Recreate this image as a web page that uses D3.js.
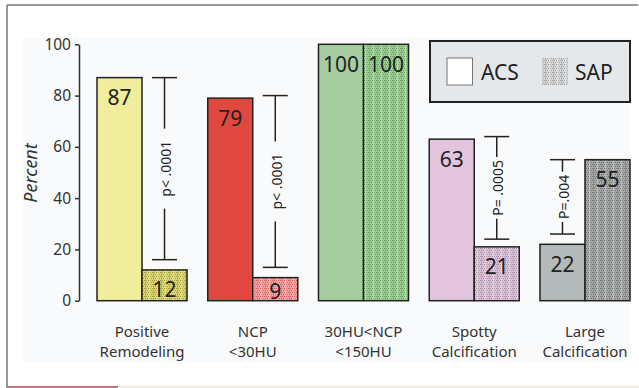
<!DOCTYPE html>
<html><head><meta charset="utf-8">
<script src="https://cdn.jsdelivr.net/npm/d3@7"></script>
<style>html,body{margin:0;padding:0;background:#fff;} svg{display:block;font-family:"Noto Sans",sans-serif;}</style>
</head><body><svg id="c" width="639" height="388"></svg>
<script>
// ---- data ----
const categories = ["Positive\nRemodeling","NCP\n<30HU","30HU<NCP\n<150HU","Spotty\nCalcification","Large\nCalcification"];
const series = ["ACS","SAP"];
const acsValues = [87,79,100,63,22];
const sapValues = [12,9,100,21,55];
const yTicks = [0,20,40,60,80,100];
const pLabels = ["p< .0001","p< .0001",null,"P= .0005","P=.004"];
const pTop = [87,80,null,64,55];
const pBottom = [16,13,null,24,26];
const pOver = ["SAP","SAP",null,"SAP","ACS"];

// ---- styles ----
const acsColors = ["#f0ed9c","#e0483f","#a7cca0","#e2c4df","#b4b9b9"];
const sapBase = ["#dcd878","#f2a4a2","#9fcf97","#dcc4d8","#a9abab"];
const sapDark = ["#8c8628","#cf4a48","#4f9049","#9b7a96","#5e5f5f"];
const legendBase = "#d8d8d8", legendDark = "#8e8e8e";

const svg = d3.select("#c");
const W = 639, H = 388;

// patterns
const defs = svg.append("defs");
function makePattern(id, base, dark){
  const p = defs.append("pattern").attr("id", id).attr("patternUnits","userSpaceOnUse")
    .attr("width", 8).attr("height", 4);
  p.append("rect").attr("width",8).attr("height",4).attr("fill",base);
  [[0,0],[2,0],[4,0],[6,0],[1,2],[3,2],[5,2],[7,2]].forEach(([x,y])=>{
    p.append("rect").attr("x",x).attr("y",y).attr("width",1).attr("height",1).attr("fill",dark).attr("opacity",0.75);
  });
  p.append("rect").attr("x",5).attr("y",0).attr("width",1).attr("height",4).attr("fill","#fff").attr("opacity",0.35);
  p.append("rect").attr("x",1).attr("y",0).attr("width",1).attr("height",4).attr("fill",dark).attr("opacity",0.3);
}
sapBase.forEach((b,i)=>makePattern("hatch"+i, b, sapDark[i]));
makePattern("hatchLegend", legendBase, legendDark);

// frame
svg.append("rect").attr("x",0).attr("y",0).attr("width",W).attr("height",H).attr("fill","#fff");
svg.append("rect").attr("x",22).attr("y",38).attr("width",608).attr("height",323).attr("fill","#f9fafb");
svg.append("line").attr("x1",7).attr("x2",7).attr("y1",5).attr("y2",H).attr("stroke","#999").attr("stroke-width",2);
svg.append("line").attr("x1",7).attr("x2",638).attr("y1",5).attr("y2",5).attr("stroke","#777").attr("stroke-width",1.5);
svg.append("rect").attr("x",7).attr("y",386).attr("width",111).attr("height",2).attr("fill","#c7707f");
svg.append("rect").attr("x",118).attr("y",386).attr("width",521).attr("height",2).attr("fill","#f2ebe0");

// scales
const y = d3.scaleLinear().domain([0,100]).range([300.7,44.3]);
const x0 = d3.scaleBand().domain(categories).range([97,630]).paddingInner(0.187).paddingOuter(0);
const x1 = d3.scaleBand().domain(series).range([0,x0.bandwidth()]);

// axis
const axis = svg.append("g").attr("transform","translate(79,0)")
  .call(d3.axisLeft(y).tickValues(yTicks).tickSize(4).tickSizeOuter(0).tickPadding(4));
axis.select(".domain").attr("stroke","#333").attr("stroke-width",1.5);
axis.selectAll(".tick line").attr("stroke","#333").attr("stroke-width",1.5);
axis.selectAll(".tick text").attr("fill","#333").style("font-size","15.5px").style("font-family","'Noto Sans',sans-serif");

svg.append("text").attr("transform","translate(36.5,173) rotate(-90)")
  .attr("text-anchor","middle").attr("fill","#333").style("font-size","18px").style("font-style","italic")
  .text("Percent");

// bars
const rows = categories.map((c,i)=>({cat:c, i, ACS:acsValues[i], SAP:sapValues[i]}));
const g = svg.append("g");
rows.forEach(r=>{
  series.forEach(s=>{
    const v = r[s];
    const bx = x0(r.cat) + x1(s);
    g.append("rect").attr("x",bx).attr("y",y(v)).attr("width",x1.bandwidth()).attr("height",y(0)-y(v))
      .attr("fill", s==="ACS" ? acsColors[r.i] : `url(#hatch${r.i})`)
      .attr("stroke","#222").attr("stroke-width",1.5);
  });
});
rows.forEach(r=>{
  series.forEach(s=>{
    const v = r[s];
    const bx = x0(r.cat) + x1(s) + x1.bandwidth()/2;
    g.append("text").attr("x",bx).attr("y",Math.min(y(v)+27.5, y(0)-2))
      .attr("text-anchor","middle").attr("fill","#222").style("font-size","21px").text(v);
  });
});

// p-value brackets
rows.forEach(r=>{
  const i = r.i;
  if(!pLabels[i]) return;
  const bx = x0(r.cat) + x1(pOver[i]) + x1.bandwidth()/2;
  const yt = y(pTop[i]), yb = y(pBottom[i]);
  const ym = (yt+yb)/2;
  const bg = svg.append("g");
  const t = bg.append("text").attr("transform",`translate(${bx+1},${ym}) rotate(-90)`)
    .attr("text-anchor","middle").attr("dominant-baseline","central")
    .attr("fill","#222").style("font-size","14px").text(pLabels[i]);
  const len = t.node().getComputedTextLength();
  const room = (yb-yt)/2 - len/2;
  const pad = room > 40 ? 12 : 3;
  const half = len/2 + pad;
  const stroke = (x1_,y1_,x2_,y2_)=>bg.append("line").attr("x1",x1_).attr("y1",y1_).attr("x2",x2_).attr("y2",y2_)
      .attr("stroke","#222").attr("stroke-width",1.5);
  stroke(bx-12.5,yt,bx+12.5,yt);
  stroke(bx-12.5,yb,bx+12.5,yb);
  if (ym-half > yt) stroke(bx,yt,bx,ym-half);
  if (ym+half < yb) stroke(bx,ym+half,bx,yb);
});

// category labels
rows.forEach(r=>{
  const cx = x0(r.cat) + x0.bandwidth()/2;
  const t = svg.append("text").attr("x",cx).attr("y",337).attr("text-anchor","middle")
    .attr("fill","#333").style("font-size","15px");
  r.cat.split("\n").forEach((line,k)=>{
    t.append("tspan").attr("x",cx).attr("y",337 + k*19.5).text(line);
  });
});

// legend
const lg = svg.append("g");
lg.append("rect").attr("x",430).attr("y",41).attr("width",200).attr("height",61)
  .attr("fill","#e5e8eb").attr("stroke","#222").attr("stroke-width",2);
lg.append("rect").attr("x",447).attr("y",58).attr("width",25.5).attr("height",27)
  .attr("fill","#fff").attr("stroke","#777").attr("stroke-width",1);
lg.append("text").attr("x",481).attr("y",80).attr("fill","#222").style("font-size","21px").text(series[0]);
lg.append("rect").attr("x",542).attr("y",58).attr("width",26).attr("height",27)
  .attr("fill","url(#hatchLegend)");
lg.append("text").attr("x",575).attr("y",80).attr("fill","#222").style("font-size","21px").text(series[1]);
</script></body></html>
